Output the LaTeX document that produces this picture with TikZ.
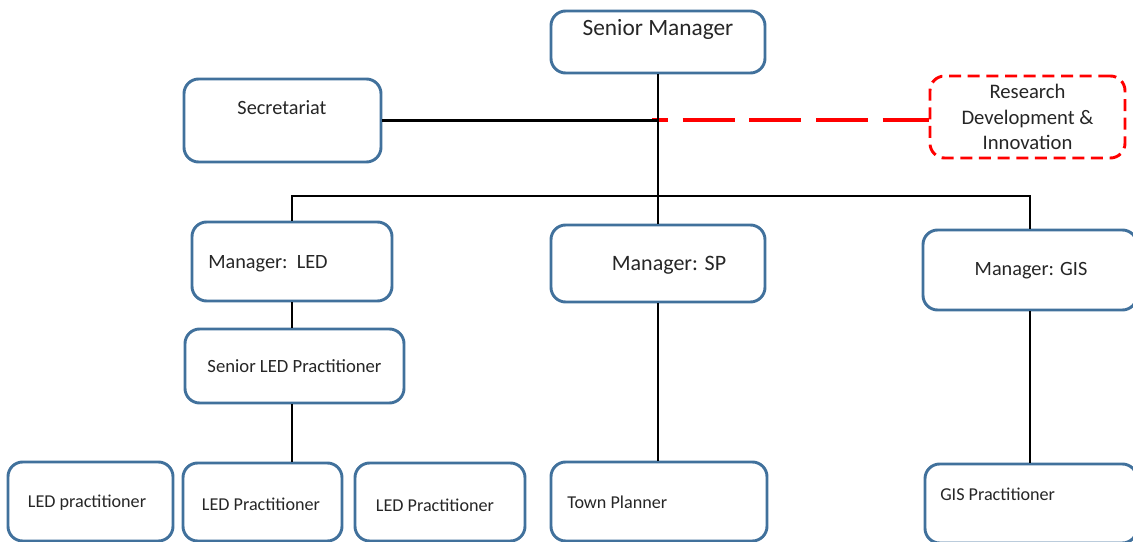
\documentclass[tikz,border=0pt]{standalone}
\usepackage{fontspec}
\setmainfont{Carlito}
\definecolor{boxblue}{HTML}{41719C}
\definecolor{txtgray}{HTML}{262626}
\begin{document}
\begin{tikzpicture}[x=0.75pt,y=-0.75pt,
  unit/.style={draw=boxblue, line width=2.2pt, rounded corners=11pt, fill=white, inner sep=0pt, text=txtgray},
  rdbox/.style={draw=red, line width=2.2pt, dash pattern=on 9pt off 5pt, rounded corners=11pt, fill=white, inner sep=0pt, align=center, text=txtgray},
  link/.style={line width=2.2pt, black},
  big/.style={font=\fontsize{17.5}{21}\selectfont},
  mid/.style={font=\fontsize{15.2}{19}\selectfont},
  small/.style={font=\fontsize{13.6}{16}\selectfont},
  lbl/.style={inner sep=0pt, text=txtgray}]
\useasboundingbox (0,0) rectangle (1133,542);
% top level
\node[unit, minimum width=160.5pt, minimum height=46.5pt] (sm) at (658,42) {};
\node[lbl, big] (smT) at (658,29) {Senior Manager};
\node[unit, minimum width=147.75pt, minimum height=62.25pt] (sec) at (282.5,120.5) {};
\node[lbl, mid] (secT) at (282,108) {Secretariat};
\node[rdbox, minimum width=146.25pt, minimum height=61.5pt, font=\fontsize{15.5}{19.1}\selectfont] (rdi) at (1027.5,117) {Research\\Development \&\\Innovation};
% managers
\node[unit, minimum width=150pt, minimum height=59.25pt] (mled) at (292,261.5) {};
\node[lbl, mid, anchor=west] (mledT) at (208,264) {Manager:\ \ LED};
\node[unit, minimum width=160.5pt, minimum height=57.75pt] (msp) at (658,263.5) {};
\node[lbl, font=\fontsize{16.5}{20}\selectfont] (mspT) at (669,265) {Manager: SP};
\node[unit, minimum width=160.5pt, minimum height=60pt] (mgis) at (1030,270) {};
\node[lbl, mid] (mgisT) at (1031,271) {Manager: GIS};
\node[unit, minimum width=164.25pt, minimum height=55.5pt, font=\fontsize{14}{17}\selectfont] (sled) at (294.5,366) {Senior LED Practitioner};
% bottom row
\node[unit, minimum width=123.75pt, minimum height=59.25pt] (p1) at (90.5,501.5) {};
\node[lbl, small] (p1T) at (87,503) {LED practitioner};
\node[unit, minimum width=119.25pt, minimum height=58.5pt] (p2) at (262.5,502) {};
\node[lbl, small] (p2T) at (261,504) {LED Practitioner};
\node[unit, minimum width=127.5pt, minimum height=58.5pt] (p3) at (440,502) {};
\node[lbl, small] (p3T) at (435,505) {LED Practitioner};
\node[unit, minimum width=162pt, minimum height=59.25pt] (tp) at (659,501.5) {};
\node[lbl, small, anchor=west] (tpT) at (567,502) {Town Planner};
\node[unit, minimum width=159pt, minimum height=59.25pt] (gisp) at (1031,503.5) {};
\node[lbl, small, anchor=west] (gispT) at (940,494) {GIS Practitioner};
% connectors
\coordinate (bus) at (658,196);
\draw[red, line width=3pt, dash pattern=on 39pt off 11pt, dash phase=27pt] ([xshift=-4.5pt]sm.south |- sec.east) -- (rdi.west |- sec.east);
\draw[link] (sm.south) -- (msp.north);
\draw[link] (sec.east) -- (sec.east -| sm.south);
\draw[link] (mled.north) |- (bus) -| (mgis.north);
\draw[link] (mled.south) -- (mled.south |- sled.north);
\draw[link] (mled.south |- sled.south) -- (mled.south |- p2.north);
\draw[link] (msp.south) -- (msp.south |- tp.north);
\draw[link] (mgis.south) -- (mgis.south |- gisp.north);
\end{tikzpicture}
\end{document}
